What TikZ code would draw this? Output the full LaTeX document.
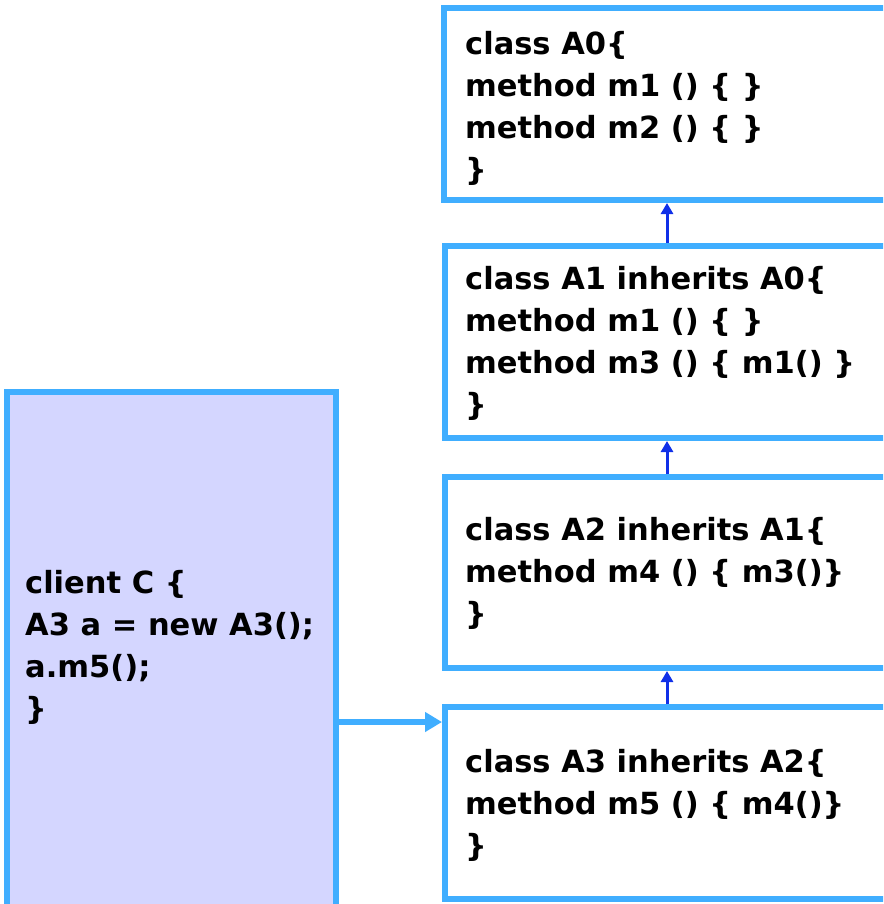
\documentclass[tikz,border=0pt]{standalone}
\usepackage{fontspec}
\setmainfont{DejaVu Sans}
\usetikzlibrary{arrows.meta}
\definecolor{edgeblue}{RGB}{64,174,255}
\definecolor{clientfill}{RGB}{212,214,255}
\definecolor{arrowblue}{RGB}{16,48,232}
\tikzset{
  classbox/.style={draw=edgeblue, line width=5.5pt, fill=white},
  codetext/.style={anchor=base west, align=left, inner sep=0pt,
    font=\fontsize{30.5}{42}\selectfont\bfseries},
  inh/.style={draw=arrowblue, line width=3pt, -{Triangle[length=11pt,width=12pt]}},
  use/.style={draw=edgeblue, line width=5.5pt, -{Triangle[length=17pt,width=19pt]}}
}
\begin{document}
\begin{tikzpicture}[x=1pt,y=-1pt]
\clip (0,0) rectangle (883,904);
\fill[white] (0,0) rectangle (883,904);
% boxes
\draw[classbox] (444,8) rectangle (900,200);
\draw[classbox] (445,246) rectangle (900,438);
\draw[classbox] (445,477) rectangle (900,668);
\draw[classbox] (445,707) rectangle (900,899);
\draw[classbox, fill=clientfill] (7,392) rectangle (336,930);
% anchors for connectors
\coordinate (A0b) at (667,203);
\coordinate (A1t) at (667,243);
\coordinate (A1b) at (667,441);
\coordinate (A2t) at (667,474);
\coordinate (A2b) at (667,671);
\coordinate (A3t) at (667,704);
\coordinate (Cr) at (339,722);
\coordinate (A3l) at (442,722);
% texts (anchored at the baseline of the last line)
\node[codetext] (t0) at (465,181) {class A0\{\\method m1 () \{ \}\\method m2 () \{ \}\\\}};
\node[codetext] (t1) at (465,415) {class A1 inherits A0\{\\method m1 () \{ \}\\method m3 () \{ m1() \}\\\}};
\node[codetext] (t2) at (465,624) {class A2 inherits A1\{\\method m4 () \{ m3()\}\\\}};
\node[codetext] (t3) at (465,856) {class A3 inherits A2\{\\method m5 () \{ m4()\}\\\}};
\node[codetext] (tc) at (25,719) {client C \{\\A3 a = new A3();\\a.m5();\\\}};
% connectors
\draw[inh] (A1t) -- (A0b);
\draw[inh] (A2t) -- (A1b);
\draw[inh] (A3t) -- (A2b);
\draw[use] (Cr) -- (A3l);
\end{tikzpicture}
\end{document}
